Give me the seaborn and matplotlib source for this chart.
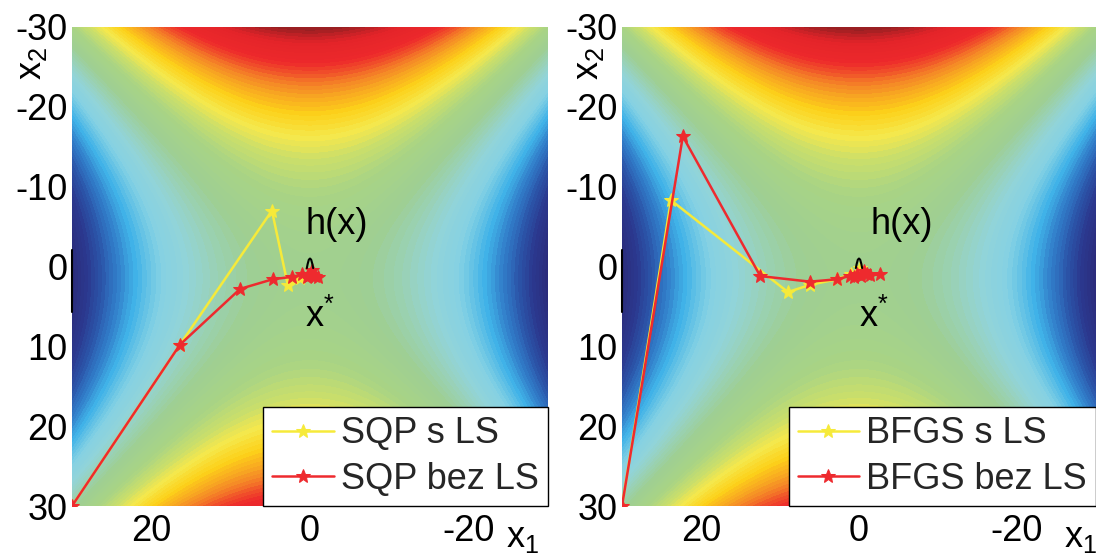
import numpy as np
import pandas as pd
import matplotlib
matplotlib.use("Agg")
import matplotlib.pyplot as plt
from matplotlib.colors import LinearSegmentedColormap
import seaborn as sns

# ---- iteration paths (x1, x2) ----
sqp_ls_x1 = [30, 16.4, 4.8, 2.8, 1.2, 0.3, -0.2]
sqp_ls_x2 = [30, 9.8, -7.0, 2.3, 1.4, 1.1, 1.0]

sqp_nols_x1 = [30, 16.4, 8.8, 4.7, 2.3, 1.0, 0.4, -0.3, 0.2, -0.6, -0.1, -1.0, 0.0]
sqp_nols_x2 = [30, 9.8, 2.8, 1.6, 1.3, 1.0, 1.3, 0.5, 1.2, 1.2, 0.9, 1.3, 1.1]

bfgs_ls_x1 = [30, 23.8, 9.0, 6.2, 2.8, 1.0, -0.1]
bfgs_ls_x2 = [30, -8.3, 3.2, 2.3, 1.6, 0.9, 0.2]

bfgs_nols_x1 = [30, 22.3, 12.5, 6.2, 2.8, 1.2, 0.2, -0.6, 0.6, -1.4, -0.2, -2.7, -1.0]
bfgs_nols_x2 = [30, -16.3, 1.2, 1.9, 1.6, 1.2, 1.0, 0.6, 1.3, 1.1, 1.2, 1.0, 1.0]

# constraint curve h(x) = 0 near the solution
h_x1 = [0.4, 0.3, 0.15, 0.0, -0.15, -0.3, -0.4]
h_x2 = [0.2, -0.3, -0.85, -1.0, -0.85, -0.3, 0.2]

# short visible piece of the left frame
frame_x2 = [-2.1, 5.7]

x_ticks = [20, 0, -20]
y_ticks = [-30, -20, -10, 0, 10, 20, 30]

# objective surface: saddle f = x2^2 - x1^2 - c*x2
c_lin = 3.0
g = np.linspace(-30, 30, 500)
X1, X2 = np.meshgrid(g, g)
F = X2 ** 2 - X1 ** 2 - c_lin * X2

cmap = LinearSegmentedColormap.from_list("surf", [
    (0.00, (0.17, 0.17, 0.48)),
    (0.06, (0.17, 0.22, 0.56)),
    (0.11, (0.17, 0.33, 0.66)),
    (0.16, (0.19, 0.48, 0.78)),
    (0.22, (0.25, 0.70, 0.91)),
    (0.29, (0.52, 0.82, 0.89)),
    (0.35, (0.57, 0.83, 0.85)),
    (0.40, (0.60, 0.82, 0.72)),
    (0.45, (0.62, 0.81, 0.58)),
    (0.53, (0.66, 0.83, 0.52)),
    (0.59, (0.79, 0.87, 0.42)),
    (0.64, (0.96, 0.91, 0.30)),
    (0.70, (0.99, 0.82, 0.10)),
    (0.78, (0.96, 0.55, 0.15)),
    (0.86, (0.93, 0.16, 0.17)),
    (0.94, (0.89, 0.14, 0.16)),
    (1.00, (0.58, 0.12, 0.13)),
])

sns.set_theme(style="white")
plt.rcParams["font.family"] = ["Liberation Sans", "DejaVu Sans"]
plt.rcParams["axes.unicode_minus"] = False

YELLOW = "#f6ea3a"
RED = "#ee2a2e"
FS = 26

fig = plt.figure(figsize=(10.96, 5.6), dpi=100)
ax1 = fig.add_axes([72 / 1096, 54 / 560, 476 / 1096, 479 / 560])
ax2 = fig.add_axes([622 / 1096, 54 / 560, 474 / 1096, 479 / 560])

panels = [
    (ax1, sqp_ls_x1, sqp_ls_x2, sqp_nols_x1, sqp_nols_x2,
     "SQP s LS", "SQP bez LS", (0.6, -5.2), (0.6, 7.6), -0.085, 0.912),
    (ax2, bfgs_ls_x1, bfgs_ls_x2, bfgs_nols_x1, bfgs_nols_x2,
     "BFGS s LS", "BFGS bez LS", (-1.5, -5.2), (0.0, 7.6), -0.07, 0.932),
]

levels = np.linspace(F.min(), F.max(), 80)

for ax, ylx1, ylx2, rdx1, rdx2, lab_y, lab_r, hpos, xpos, x2lab, x1lab in panels:
    ax.contourf(X1, X2, F, levels=levels, cmap=cmap)

    sns.lineplot(x=ylx1, y=ylx2, sort=False, estimator=None, ax=ax,
                 color=YELLOW, lw=1.8, marker="*", markersize=10,
                 markeredgecolor=YELLOW, label=lab_y)
    sns.lineplot(x=rdx1, y=rdx2, sort=False, estimator=None, ax=ax,
                 color=RED, lw=1.8, marker="*", markersize=10,
                 markeredgecolor=RED, label=lab_r)

    ax.plot(h_x1, h_x2, color="black", lw=1.5)
    ax.plot([30, 30], frame_x2, color="black", lw=1.5, clip_on=False)

    ax.text(hpos[0], hpos[1], "h(x)", fontsize=FS, ha="left", va="center",
            color="black")
    ax.text(xpos[0], xpos[1], "x$^\\mathregular{*}$", fontsize=FS,
            ha="left", va="baseline", color="black")

    ax.set_xlim(30, -30)
    ax.set_ylim(30, -30)
    ax.set_xticks(x_ticks)
    ax.set_yticks(y_ticks)
    ax.set_xticklabels([str(v) for v in x_ticks])
    ax.set_yticklabels([str(v) for v in y_ticks])
    ax.tick_params(axis="both", length=0, labelsize=FS, colors="black")
    ax.tick_params(axis="x", pad=6)
    ax.tick_params(axis="y", pad=3)
    for sp in ax.spines.values():
        sp.set_visible(False)

    ax.text(x1lab, -0.03, "x$_\\mathregular{1}$", transform=ax.transAxes,
            fontsize=FS, ha="left", va="top", color="black")
    ax.text(x2lab, 0.925, "x$_\\mathregular{2}$", transform=ax.transAxes,
            fontsize=FS, ha="center", va="center", rotation=90,
            color="black")

    leg = ax.legend(loc="lower right", borderaxespad=0, fancybox=False,
                    edgecolor="black", framealpha=1, fontsize=FS,
                    handlelength=1.7, handletextpad=0.2, borderpad=0.25,
                    labelspacing=0.3)
    leg.get_frame().set_linewidth(1.0)

fig.savefig("out.png", dpi=100)
